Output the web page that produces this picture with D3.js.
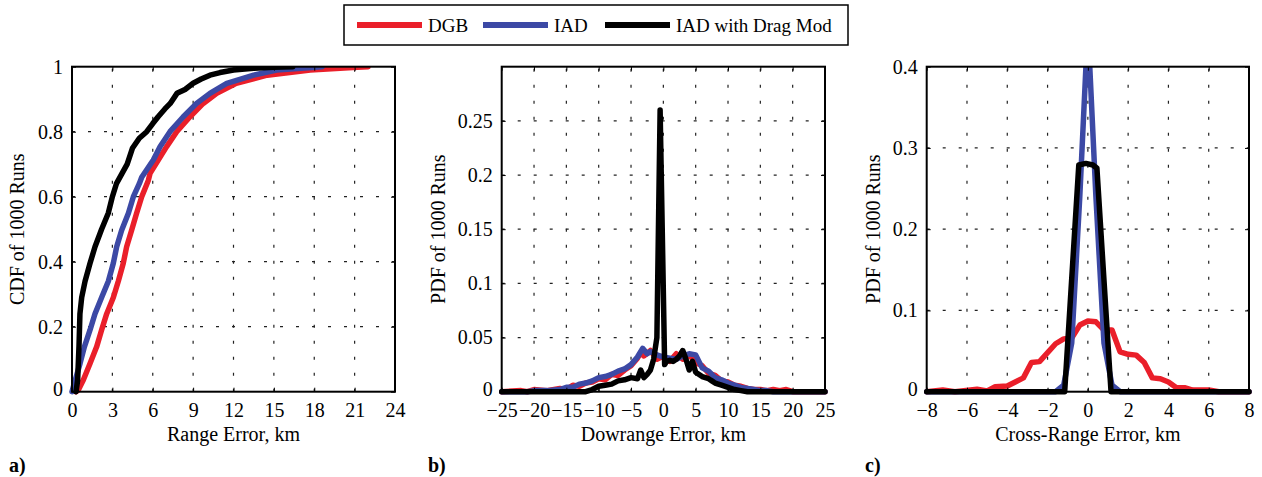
<!DOCTYPE html>
<html>
<head>
<meta charset="utf-8">
<script src="https://cdn.jsdelivr.net/npm/d3@7"></script>
<style>
  body { margin: 0; background: #fff; }
  svg text { font-family: "Liberation Serif", "Times New Roman", serif; fill: #000; }
</style>
</head>
<body>
<div id="graph"></div>
<script>
// series names and colours
var seriesNames = ["DGB", "IAD", "IAD with Drag Mod"];
var seriesColors = ["#ea1f2a", "#3c49a5", "#000000"];

// panel a) CDF of range error, [km, cdf]
var cdfDGB = [[0.3,0],[0.47,0.005],[0.84,0.036],[1.34,0.087],[1.83,0.138],[2.2,0.19],[2.58,0.24],[3.07,0.29],[3.44,0.34],[3.81,0.395],[4.06,0.446],[4.43,0.497],[4.8,0.549],[5.18,0.6],[5.67,0.65],[5.8,0.672],[6.41,0.713],[7.03,0.754],[7.78,0.8],[8.77,0.846],[9.75,0.887],[10.75,0.918],[12.2,0.949],[14.5,0.974],[17.7,0.99],[21.2,0.998],[22,1]];
var cdfIAD = [[0,0],[0.1,0.015],[0.6,0.087],[0.92,0.138],[1.34,0.19],[1.71,0.24],[2.2,0.29],[2.7,0.34],[3.07,0.395],[3.32,0.446],[3.69,0.497],[4.19,0.549],[4.56,0.6],[5.0,0.64],[5.18,0.66],[6.04,0.713],[6.54,0.754],[7.28,0.8],[8.27,0.846],[9.26,0.887],[10.25,0.918],[11.5,0.949],[13.5,0.974],[15.2,0.99],[18.6,1]];
var cdfDrag = [[0.3,0],[0.42,0.036],[0.52,0.14],[0.59,0.24],[0.72,0.29],[0.97,0.34],[1.34,0.395],[1.71,0.446],[2.2,0.5],[2.7,0.55],[3.0,0.6],[3.3,0.64],[3.7,0.67],[4.1,0.7],[4.5,0.75],[5.0,0.78],[5.55,0.8],[6.0,0.825],[6.4,0.846],[6.9,0.87],[7.3,0.887],[7.8,0.918],[8.4,0.93],[9.0,0.949],[9.6,0.962],[10.25,0.974],[11,0.982],[12,0.99],[13.5,0.995],[15,0.998],[16.4,1]];

// panel b) PDF of downrange error, [km, pdf]
var downDGB = [[-25,0],[-22,0.001],[-21,0],[-20,0.002],[-18,0.001],[-16,0.003],[-15,0.002],[-14,0.006],[-13,0.005],[-12,0.008],[-11,0.009],[-10,0.012],[-9,0.011],[-8,0.016],[-7,0.015],[-6,0.020],[-5,0.024],[-4,0.031],[-3.5,0.036],[-3,0.033],[-2,0.038],[-1,0.030],[0,0.033],[1,0.028],[2,0.035],[3,0.030],[4,0.034],[5,0.027],[6,0.024],[7,0.017],[8,0.015],[9,0.010],[10,0.009],[11,0.006],[12,0.005],[13,0.003],[14,0.002],[15,0.002],[16,0.001],[17,0.002],[18,0.001],[19,0.002],[20,0],[25,0]];
var downIAD = [[-25,0],[-21,0],[-20,0.001],[-18,0.001],[-16,0.002],[-15,0.004],[-14,0.004],[-13,0.007],[-12,0.008],[-11,0.010],[-10,0.013],[-9,0.014],[-8,0.016],[-7,0.019],[-6,0.021],[-5,0.025],[-4,0.032],[-3.2,0.040],[-2.5,0.035],[-2,0.037],[-1,0.034],[0,0.032],[1,0.031],[2,0.030],[3,0.033],[4,0.035],[5,0.034],[6,0.022],[7,0.019],[8,0.013],[9,0.011],[10,0.008],[11,0.006],[12,0.004],[13,0.003],[14,0.002],[15,0.001],[16,0.001],[17,0],[25,0]];
var downDrag = [[-25,0],[-12,0],[-11,0.002],[-10,0.005],[-9,0.006],[-8,0.007],[-7,0.010],[-6,0.011],[-5,0.013],[-4,0.012],[-3.5,0.020],[-3,0.013],[-2.5,0.016],[-2,0.020],[-1.5,0.030],[-1,0.050],[-0.5,0.260],[0.2,0.025],[0.5,0.028],[1,0.029],[1.5,0.028],[2,0.030],[2.5,0.033],[3,0.038],[3.5,0.030],[4,0.020],[4.5,0.028],[5,0.018],[6,0.014],[7,0.012],[7.5,0.010],[8,0.008],[9,0.006],[10,0.004],[11,0.002],[12,0.001],[13,0],[25,0]];

// panel c) PDF of cross-range error, [km, pdf]
var crossDGB = [[-8,0],[-7.2,0.002],[-6.6,0],[-5.5,0.003],[-5,0.001],[-4.6,0.006],[-4,0.007],[-3.2,0.017],[-2.8,0.036],[-2.4,0.037],[-1.6,0.059],[-1.2,0.065],[-0.8,0.066],[-0.4,0.082],[0,0.087],[0.4,0.086],[0.8,0.076],[1.2,0.076],[1.6,0.049],[2.0,0.046],[2.4,0.045],[2.8,0.036],[3.2,0.017],[3.6,0.016],[4.0,0.012],[4.4,0.005],[4.8,0.005],[5.2,0.002],[6,0.002],[6.5,0],[8,0]];
var crossIAD = [[-8,0],[-1.6,0],[-1.2,0.008],[-0.8,0.06],[-0.4,0.24],[0,0.45],[0.4,0.24],[0.8,0.06],[1.2,0.008],[1.6,0],[8,0]];
var crossDrag = [[-8,0],[-1.15,0],[-0.45,0.279],[-0.1,0.281],[0.25,0.279],[0.45,0.275],[1.15,0],[8,0]];

// axis ticks
var ticksA_x = [0,3,6,9,12,15,18,21,24], ticksA_y = [0,0.2,0.4,0.6,0.8,1];
var ticksB_x = [-25,-20,-15,-10,-5,0,5,10,15,20,25], ticksB_y = [0,0.05,0.1,0.15,0.2,0.25];
var ticksC_x = [-8,-6,-4,-2,0,2,4,6,8], ticksC_y = [0,0.1,0.2,0.3,0.4];

var W = 1262, H = 477;
var svg = d3.select("#graph").append("svg").attr("width", W).attr("height", H);

function fmt(d) {
  var s = String(+d.toFixed(3));
  return s.replace("-", "\u2212");
}

function drawPanel(p) {
  var w = p.right - p.left, h = 325;
  var g = svg.append("g").attr("transform", "translate(" + p.left + ",66.7)");
  var x = d3.scaleLinear().domain(p.xdom).range([0, w]);
  var y = d3.scaleLinear().domain(p.ydom).range([h, 0]);

  // dotted grid
  g.selectAll(".vg").data(p.xticks.filter(function(d) { return d != p.xdom[0] && d != p.xdom[1]; }))
    .enter().append("line")
    .attr("x1", function(d) { return x(d); }).attr("x2", function(d) { return x(d); })
    .attr("y1", h).attr("y2", 0)
    .attr("stroke", "#222").attr("stroke-width", 1.2).attr("stroke-dasharray", "3,13");
  g.selectAll(".hg").data(p.yticks.filter(function(d) { return d != p.ydom[0] && d != p.ydom[1]; }))
    .enter().append("line")
    .attr("x1", 0).attr("x2", w)
    .attr("y1", function(d) { return y(d); }).attr("y2", function(d) { return y(d); })
    .attr("stroke", "#222").attr("stroke-width", 1.2).attr("stroke-dasharray", "3,13");

  // clip data to the axes box (let the zero line sit on the frame)
  g.append("clipPath").attr("id", "clip" + p.id)
    .append("rect").attr("x", -3).attr("y", 0).attr("width", w + 6).attr("height", h + 4);

  var line = d3.line().x(function(d) { return x(d[0]); }).y(function(d) { return y(d[1]); });
  g.append("g").attr("clip-path", "url(#clip" + p.id + ")")
    .selectAll("path").data(p.series).enter().append("path")
    .attr("d", line)
    .attr("fill", "none")
    .attr("stroke", function(d, i) { return seriesColors[i]; })
    .attr("stroke-width", 5.5)
    .attr("stroke-linejoin", "round")
    .attr("stroke-linecap", "round");

  // axes, ticks inside, labels outside
  var xa = g.append("g").attr("transform", "translate(0," + h + ")")
    .call(d3.axisBottom(x).tickValues(p.xticks).tickSize(-4).tickPadding(13).tickFormat(fmt));
  var xt = g.append("g").call(d3.axisTop(x).tickValues(p.xticks).tickSize(-4).tickFormat(""));
  var ya = g.append("g").call(d3.axisLeft(y).tickValues(p.yticks).tickSize(-4).tickPadding(9).tickFormat(fmt));
  var yr = g.append("g").attr("transform", "translate(" + w + ",0)")
    .call(d3.axisRight(y).tickValues(p.yticks).tickSize(-4).tickFormat(""));
  [xa, xt, ya, yr].forEach(function(a) {
    a.select(".domain").remove();
    a.selectAll("line").attr("stroke", "#000").attr("stroke-width", 1);
    a.selectAll("text").style("font-size", "20px").attr("fill", "#000");
  });
  xa.selectAll("text").attr("dy", "0.62em");
  // lift the bottom "0" a touch so it clears the x tick labels
  ya.selectAll("text").filter(function(d) { return d === 0; }).attr("dy", "0.2em");

  g.append("rect").attr("width", w).attr("height", h)
    .attr("fill", "none").attr("stroke", "#000").attr("stroke-width", 2);

  g.append("text").attr("x", w / 2).attr("y", h + 49)
    .attr("text-anchor", "middle").style("font-size", "20px").text(p.xlabel);
  g.append("text").attr("transform", "translate(" + p.ylabelX + "," + (h / 2) + ") rotate(-90)")
    .attr("text-anchor", "middle").style("font-size", "20px").text(p.ylabel);
  svg.append("text").attr("x", p.tagX).attr("y", 472)
    .style("font-size", "20px").style("font-weight", "bold").text(p.tag);
}

drawPanel({ id: "a", left: 72, right: 395, xdom: [0, 24], ydom: [0, 1], xticks: ticksA_x, yticks: ticksA_y,
  series: [cdfDGB, cdfIAD, cdfDrag], xlabel: "Range Error, km", ylabel: "CDF of 1000 Runs",
  ylabelX: -48, tag: "a)", tagX: 9 });
drawPanel({ id: "b", left: 501.7, right: 825, xdom: [-25, 25], ydom: [0, 0.3], xticks: ticksB_x, yticks: ticksB_y,
  series: [downDGB, downIAD, downDrag], xlabel: "Dowrange Error, km", ylabel: "PDF of 1000 Runs",
  ylabelX: -57, tag: "b)", tagX: 428 });
drawPanel({ id: "c", left: 926.7, right: 1249, xdom: [-8, 8], ydom: [0, 0.4], xticks: ticksC_x, yticks: ticksC_y,
  series: [crossDGB, crossIAD, crossDrag], xlabel: "Cross-Range Error, km", ylabel: "PDF of 1000 Runs",
  ylabelX: -47, tag: "c)", tagX: 865 });

// legend box on top
var leg = svg.append("g");
leg.append("rect").attr("x", 344).attr("y", 5).attr("width", 504).attr("height", 40)
  .attr("fill", "#fff").attr("stroke", "#000").attr("stroke-width", 1.5);
var legX = [357, 483, 605];
seriesNames.forEach(function(name, i) {
  leg.append("line").attr("x1", legX[i]).attr("x2", legX[i] + 65).attr("y1", 25).attr("y2", 25)
    .attr("stroke", seriesColors[i]).attr("stroke-width", 6);
  leg.append("text").attr("x", legX[i] + 71).attr("y", 31.5).style("font-size", "19px").text(name);
});
</script>
</body>
</html>
